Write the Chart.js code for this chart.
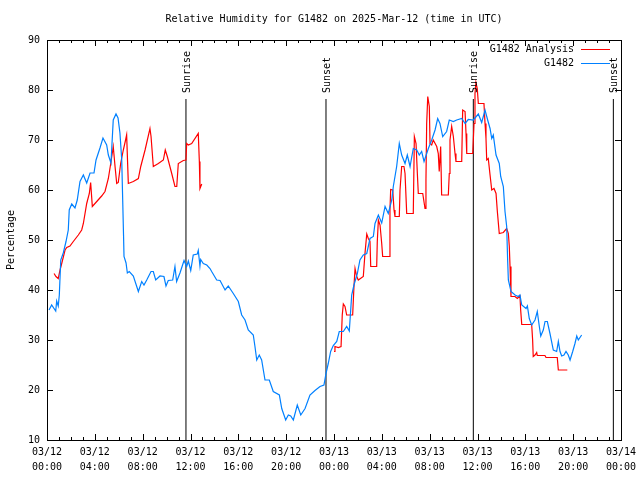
<!DOCTYPE html>
<html>
<head>
<meta charset="utf-8">
<title>Relative Humidity for G1482</title>
<script src="https://cdn.jsdelivr.net/npm/chart.js@4/dist/chart.umd.min.js"></script>
<style>
    html, body { margin: 0; padding: 0; background: #fff; }
    #grafico { display: block; }
</style>
</head>
<body>
<canvas id="grafico" width="640" height="480"></canvas>
<script>
// Hours since 03/12 00:00 UTC
const blueHours = [0.17, 0.39, 0.73, 0.81, 0.94, 1.03, 1.15, 1.36, 1.59, 1.78, 1.86, 2.07, 2.34, 2.53, 2.76, 3.04, 3.32, 3.60, 3.93, 4.10,
    4.43, 4.68, 4.99, 5.13, 5.35, 5.54, 5.77, 5.94, 6.10, 6.25, 6.33, 6.40, 6.44, 6.61, 6.72, 6.88, 7.22, 7.64, 7.92, 8.11,
    8.34, 8.70, 8.89, 9.09, 9.45, 9.78, 9.95, 10.14, 10.51, 10.70, 10.84, 11.12, 11.46, 11.68, 11.82, 12.02, 12.23, 12.57, 12.65, 12.79,
    12.85, 13.07, 13.36, 13.63, 13.77, 14.19, 14.47, 14.89, 15.16, 15.58, 16.00, 16.28, 16.56, 16.83, 17.25, 17.39, 17.54, 17.75, 17.95, 18.23,
    18.59, 18.92, 19.43, 19.63, 19.96, 20.18, 20.38, 20.60, 20.93, 21.22, 21.58, 21.99, 22.41, 22.83, 23.16, 23.33, 23.52, 23.72, 23.94, 24.23,
    24.44, 24.78, 25.06, 25.28, 25.48, 25.67, 25.95, 26.17, 26.45, 26.74, 27.01, 27.29, 27.43, 27.71, 27.99, 28.27, 28.54, 28.83, 28.96, 29.24,
    29.46, 29.66, 29.94, 30.13, 30.36, 30.63, 30.92, 31.13, 31.33, 31.53, 31.89, 32.17, 32.45, 32.67, 32.86, 33.09, 33.42, 33.64, 33.98, 34.26,
    34.68, 34.96, 35.23, 35.65, 36.07, 36.35, 36.63, 36.85, 37.05, 37.19, 37.32, 37.55, 37.82, 37.94, 38.16, 38.30, 38.44, 38.52, 38.58, 38.80,
    39.14, 39.41, 39.55, 39.70, 40.06, 40.17, 40.33, 40.53, 40.81, 41.00, 41.17, 41.29, 41.50, 41.65, 41.84, 42.06, 42.34, 42.62, 42.76, 42.90,
    43.04, 43.23, 43.40, 43.59, 43.74, 43.96, 44.15, 44.30, 44.43, 44.71];
const blueValues = [36, 37, 35.8, 37.8, 36.8, 39, 46, 47.4, 49.7, 52, 56, 57.2, 56.4, 58, 61.7, 63, 61.4, 63.4, 63.4, 66,
    68.4, 70.4, 69, 67, 65.4, 74, 75.2, 74.4, 71.4, 66, 58, 51, 46.7, 45.4, 43.4, 43.7, 42.8, 39.7, 41.7, 41,
    42, 43.7, 43.7, 42, 42.8, 42.7, 40.8, 41.9, 42, 44.7, 41.7, 43.4, 45.9, 44.7, 45.8, 43.9, 47, 47.2, 47.9, 44.8,
    46.1, 45.3, 45, 44.3, 43.7, 42, 41.9, 40, 40.8, 39.3, 37.7, 35, 34, 32, 31, 28.7, 26, 27, 26, 22,
    22, 19.7, 19, 16.3, 14, 15, 14.8, 14, 17, 15, 16.3, 19, 19.9, 20.7, 21, 23.3, 25.3, 27.7, 28.9, 29.7,
    31.7, 31.7, 32.7, 31.8, 39, 41, 43.3, 46, 47, 47.3, 50.3, 50.7, 53.3, 55, 53.4, 56.7, 55.3, 58, 60.7, 64.7,
    69.3, 67, 65.3, 67, 64.7, 68.3, 68, 67, 67.7, 65.7, 68.3, 70, 72, 74.3, 73.3, 70.7, 71.7, 74, 73.7, 74,
    74.3, 73.3, 74.1, 74, 75.2, 73.5, 76, 74, 72.3, 70.3, 71, 67, 65.3, 62.7, 60.7, 55.7, 52.7, 46, 42, 39.7,
    39, 38.7, 39, 37, 36.3, 36.8, 34.3, 33, 34, 35.7, 32.7, 30.8, 32, 33.7, 33.7, 31.3, 28, 27.7, 29.7, 27.7,
    26.8, 27, 27.7, 27, 26, 27.7, 29.3, 30.8, 30, 31];

// Analysis series, null marks the gap between runs
const redHours = [0.59, 0.75, 0.94, 1.09, 1.23, 1.51, 1.65, 1.92, 2.20, 2.62, 2.90, 3.04, 3.32, 3.54, 3.65, 3.79, 4.16, 4.57, 4.85, 5.13,
    5.33, 5.54, 5.69, 5.83, 5.96, 6.16, 6.38, 6.58, 6.66, 6.80, 7.22, 7.64, 7.84, 8.20, 8.61, 8.70, 8.89, 9.31, 9.73, 9.89,
    10.06, 10.43, 10.70, 10.85, 10.98, 11.40, 11.62, 11.68, 11.82, 12.10, 12.65, 12.74, 12.79, 12.94,
    18.00,
    24.00, 24.08, 24.36, 24.59, 24.69, 24.78, 24.92, 25.06, 25.56, 25.67, 25.76, 25.90, 26.03, 26.45, 26.59, 26.74, 26.87, 27.01, 27.07, 27.57,
    27.62, 27.71, 27.85, 27.99, 28.07, 28.63, 28.68, 28.74, 28.91, 29.02, 29.10, 29.46, 29.52, 29.66, 29.85, 29.94, 30.08, 30.63, 30.72, 30.86,
    30.97, 31.05, 31.42, 31.61, 31.69, 31.75, 31.84, 31.97, 32.03, 32.17, 32.30, 32.59, 32.72, 32.80, 32.92, 33.00, 33.56, 33.64, 33.70, 33.84,
    33.98, 34.12, 34.20, 34.68, 34.76, 34.96, 35.04, 35.10, 35.60, 35.71, 35.79, 35.87, 35.98, 36.07, 36.54, 36.63, 36.71, 36.77, 36.90, 37.05,
    37.19, 37.38, 37.55, 37.66, 37.82, 38.16, 38.44, 38.58, 38.66, 38.72, 38.80, 39.14, 39.33, 39.55, 39.61, 39.70, 40.53, 40.61, 40.66, 40.81,
    40.95, 41.00, 41.64, 41.73, 42.67, 42.76, 43.51];
const redValues = [43.3, 42.7, 42.3, 44, 45.3, 48, 48.5, 48.8, 49.7, 51, 52, 53.3, 57.3, 59.3, 61.5, 56.7, 57.7, 58.8, 59.7, 62.3,
    65.3, 68.7, 64.7, 61.3, 61.5, 65.3, 68, 70.1, 71, 61.3, 61.7, 62.3, 64.7, 68, 72.3, 70.7, 64.7, 65.3, 66, 68,
    66.7, 63.3, 60.7, 60.7, 65.3, 65.9, 66, 69.3, 69, 69.3, 71.3, 65.7, 60.3, 61.2,
    null,
    27.7, 28.7, 28.5, 28.7, 35, 37.2, 36.7, 35, 35, 40.7, 44.3, 42.7, 42, 42.7, 47.3, 51.2, 50.3, 49.7, 44.7, 44.7,
    49.7, 54, 53, 49.3, 46.7, 46.7, 56, 60.1, 60, 56, 54.7, 54.7, 60, 64.7, 64.7, 63.3, 55.3, 55.3, 70.7, 69.3,
    63.3, 59.3, 59.3, 56.3, 62, 73.3, 78.7, 76.7, 69.3, 69, 70, 68.7, 67.3, 63.7, 68.7, 59, 59, 63.3, 70, 72.7,
    70.7, 67.3, 65.7, 65.7, 76, 75.7, 71.3, 67.3, 67.3, 73.3, 79.3, 81.5, 80.3, 77.3, 77.3, 73.3, 70.3, 66, 66.3, 63,
    60, 60.3, 59.3, 55.7, 51.3, 51.5, 52.3, 51.3, 48.7, 44.7, 38.7, 38.7, 38.3, 38.8, 36, 33.1, 33.1, 30, 26.7, 27,
    27.5, 26.9, 26.9, 26.5, 26.5, 24, 24];

const sunHours = [11.62, 23.33, 35.65, 47.36];
const sunLabels = ['Sunrise', 'Sunset', 'Sunrise', 'Sunset'];
const sunLineTop = 78.2;

const xTickDays = ['03/12', '03/12', '03/12', '03/12', '03/12', '03/12', '03/13', '03/13', '03/13', '03/13', '03/13', '03/13', '03/14'];
const xTickTimes = ['00:00', '04:00', '08:00', '12:00', '16:00', '20:00', '00:00', '04:00', '08:00', '12:00', '16:00', '20:00', '00:00'];

const FONTE = 'DejaVu Sans Mono';

const toPoints = (xs, ys) => xs.map((x, i) => ({ x: x, y: ys[i] }));

// Sunrise / sunset markers as plain line datasets
const sunDatasets = sunHours.map(h => ({
    label: '',
    data: [{ x: h, y: 10 }, { x: h, y: sunLineTop }],
    borderColor: '#000000',
    borderWidth: 1,
    pointRadius: 0,
    order: 2
}));

// Frame, inward tics, title, sun labels and legend
const gnuplotStyle = {
    id: 'gnuplotStyle',
    afterDraw(chart) {
        const ctx = chart.ctx;
        const area = chart.chartArea;
        const xs = chart.scales.x;
        const ys = chart.scales.y;
        ctx.save();
        ctx.strokeStyle = '#000';
        ctx.lineWidth = 1;
        ctx.strokeRect(Math.round(area.left) + 0.5, Math.round(area.top) + 0.5,
            Math.round(area.right - area.left), Math.round(area.bottom - area.top));

        ctx.beginPath();
        for (let h = 0; h <= 48; h++) {
            const px = Math.round(xs.getPixelForValue(h)) + 0.5;
            const len = h % 4 === 0 ? 6 : 3;
            ctx.moveTo(px, area.bottom);
            ctx.lineTo(px, area.bottom - len);
            ctx.moveTo(px, area.top);
            ctx.lineTo(px, area.top + len);
        }
        for (let v = 10; v <= 90; v += 10) {
            const py = Math.round(ys.getPixelForValue(v)) + 0.5;
            ctx.moveTo(area.left, py);
            ctx.lineTo(area.left + 6, py);
            ctx.moveTo(area.right, py);
            ctx.lineTo(area.right - 6, py);
        }
        ctx.stroke();

        ctx.fillStyle = '#000';
        ctx.font = '10px "' + FONTE + '"';
        ctx.textAlign = 'center';
        ctx.textBaseline = 'middle';
        ctx.fillText('Relative Humidity for G1482 on 2025-Mar-12 (time in UTC)', (area.left + area.right) / 2, 19);

        // Rotated sun labels above each marker
        const topPx = ys.getPixelForValue(sunLineTop);
        sunHours.forEach((h, i) => {
            const px = xs.getPixelForValue(h);
            ctx.save();
            ctx.translate(px + 1, topPx - 6);
            ctx.rotate(-Math.PI / 2);
            ctx.textAlign = 'left';
            ctx.textBaseline = 'middle';
            ctx.fillText(sunLabels[i], 0, 0);
            ctx.restore();
        });

        // Legend
        const legend = [['G1482 Analysis', '#ff0000', 49], ['G1482', '#0080ff', 63]];
        ctx.textAlign = 'right';
        legend.forEach(([txt, cor, y]) => {
            ctx.fillStyle = '#000';
            ctx.fillText(txt, 574, y);
            ctx.strokeStyle = cor;
            ctx.beginPath();
            ctx.moveTo(581, y + 0.5);
            ctx.lineTo(610, y + 0.5);
            ctx.stroke();
        });
        ctx.restore();
    }
};

new Chart(document.getElementById('grafico'), {
    type: 'line',
    data: {
        datasets: [
            {
                label: 'G1482',
                data: toPoints(blueHours, blueValues),
                borderColor: '#0080ff',
                borderWidth: 1.2,
                pointRadius: 0,
                tension: 0,
                order: 0
            },
            {
                label: 'G1482 Analysis',
                data: toPoints(redHours, redValues),
                borderColor: '#ff0000',
                borderWidth: 1.2,
                pointRadius: 0,
                tension: 0,
                spanGaps: false,
                order: 1
            },
            ...sunDatasets
        ]
    },
    options: {
        responsive: false,
        animation: false,
        layout: {
            padding: { left: 0, right: 19, top: 40, bottom: 0 }
        },
        plugins: {
            legend: { display: false },
            title: { display: false },
            tooltip: { enabled: false }
        },
        scales: {
            x: {
                type: 'linear',
                min: 0,
                max: 48,
                grid: { display: false, drawTicks: false },
                border: { display: false },
                ticks: {
                    stepSize: 4,
                    autoSkip: false,
                    maxRotation: 0,
                    padding: 5,
                    color: '#000',
                    font: { family: FONTE, size: 10, lineHeight: 1.5 },
                    callback: v => {
                        const i = Math.round(v / 4);
                        return [xTickDays[i], xTickTimes[i]];
                    }
                },
                afterFit: scale => {
                    scale.height = 40;
                    scale.paddingLeft = 0;
                    scale.paddingRight = 0;
                }
            },
            y: {
                min: 10,
                max: 90,
                grid: { display: false, drawTicks: false },
                border: { display: false },
                ticks: {
                    stepSize: 10,
                    padding: 7,
                    color: '#000',
                    font: { family: FONTE, size: 10 }
                },
                title: {
                    display: true,
                    text: 'Percentage',
                    color: '#000',
                    font: { family: FONTE, size: 10 },
                    padding: { top: 5, bottom: 0 }
                },
                afterFit: scale => {
                    scale.width = 47;
                    scale.paddingTop = 0;
                    scale.paddingBottom = 0;
                }
            }
        }
    },
    plugins: [gnuplotStyle]
});
</script>
</body>
</html>
